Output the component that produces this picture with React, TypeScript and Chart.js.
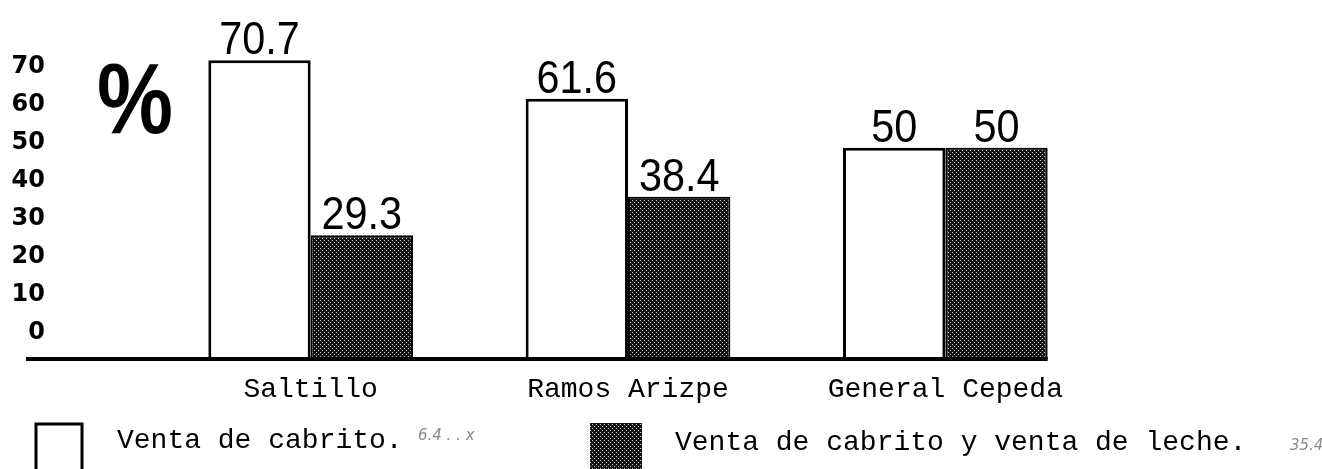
import React, { useEffect, useRef } from 'react';
import { Chart, registerables } from 'chart.js';

Chart.register(...registerables);

const categories = ['Saltillo', 'Ramos Arizpe', 'General Cepeda'];
const ventaCabrito = [70.7, 61.6, 50];
const ventaCabritoLeche = [29.3, 38.4, 50];
const seriesLabels = ['Venta de cabrito.', 'Venta de cabrito y venta de leche.'];
const yTickValues = [0, 10, 20, 30, 40, 50, 60, 70];
const handNotes = ['6.4 . . x', '35.4'];
const unitSymbol = '%';

function makePattern(): CanvasPattern | string {
  const c = document.createElement('canvas');
  c.width = 4;
  c.height = 4;
  const g = c.getContext('2d');
  if (!g) return '#333';
  g.fillStyle = '#151515';
  g.fillRect(0, 0, 4, 4);
  g.fillStyle = '#c4c4c4';
  g.fillRect(0, 0, 1, 1);
  g.fillRect(2, 2, 1, 1);
  return g.createPattern(c, 'repeat') || '#333';
}

export default function App() {
  const ref = useRef<HTMLCanvasElement | null>(null);

  useEffect(() => {
    document.body.style.margin = '0';
    const canvas = ref.current;
    if (!canvas) return;
    const pattern = makePattern();

    const valuePlugin = {
      id: 'valueLabels',
      afterDatasetsDraw(chart: any) {
        const ctx = chart.ctx;
        // baseline
        const lastMeta = chart.getDatasetMeta(chart.data.datasets.length - 1);
        const lastEl: any = lastMeta.data[lastMeta.data.length - 1];
        const right = lastEl.x + lastEl.width / 2;
        const left = chart.scales.y2.left + 26;
        const yb = chart.chartArea.bottom;
        ctx.save();
        ctx.strokeStyle = '#000';
        ctx.lineWidth = 4;
        ctx.beginPath();
        ctx.moveTo(left, yb);
        ctx.lineTo(right, yb);
        ctx.stroke();
        ctx.restore();

        chart.data.datasets.forEach((ds: any, di: number) => {
          const meta = chart.getDatasetMeta(di);
          meta.data.forEach((el: any, i: number) => {
            const v = ds.data[i];
            ctx.save();
            ctx.font = '46px "Liberation Sans", Arial, sans-serif';
            ctx.fillStyle = '#000';
            ctx.textAlign = 'center';
            ctx.textBaseline = 'alphabetic';
            ctx.translate(el.x, el.y - 6);
            ctx.scale(0.9, 1);
            ctx.fillText(String(v), 0, 0);
            ctx.restore();
          });
        });
      },
      afterDraw(chart: any) {
        const ctx = chart.ctx;
        const ca = chart.chartArea;
        // big percent sign
        ctx.save();
        ctx.font = 'bold 100px "Liberation Sans", Arial, sans-serif';
        ctx.fillStyle = '#000';
        ctx.textBaseline = 'alphabetic';
        ctx.textAlign = 'left';
        const w = ctx.measureText(unitSymbol).width;
        ctx.translate(ca.left - 55, ca.top + 112);
        ctx.scale(76 / w, 1);
        ctx.fillText(unitSymbol, 0, 0);
        ctx.restore();

        // legend
        const ds = chart.data.datasets;
        ctx.save();
        ctx.strokeStyle = '#000';
        ctx.lineWidth = 3;
        ctx.fillStyle = '#fff';
        ctx.fillRect(36, 424, 46, 60);
        ctx.strokeRect(36, 424, 46, 60);
        ctx.fillStyle = ds[1].backgroundColor;
        ctx.fillRect(590, 423, 52, 60);
        ctx.font = '28px "Liberation Mono", "DejaVu Sans Mono", monospace';
        ctx.fillStyle = '#000';
        ctx.textBaseline = 'middle';
        ctx.textAlign = 'left';
        ctx.fillText(ds[0].label, 117, 441);
        ctx.fillText(ds[1].label, 675, 443);
        ctx.font = 'italic 15px "DejaVu Sans", sans-serif';
        ctx.fillStyle = '#8a8a8a';
        ctx.fillText(handNotes[0], 418, 436);
        ctx.fillText(handNotes[1], 1290, 446);
        ctx.restore();
      },
    };

    const chart = new Chart(canvas, {
      type: 'bar',
      data: {
        labels: categories,
        datasets: [
          {
            label: seriesLabels[0],
            data: ventaCabrito,
            backgroundColor: '#ffffff',
            borderColor: '#000000',
            borderWidth: 3,
            barPercentage: 1.0,
            categoryPercentage: 0.645,
            yAxisID: 'y',
          },
          {
            label: seriesLabels[1],
            data: ventaCabritoLeche,
            backgroundColor: pattern as any,
            borderColor: '#000000',
            borderWidth: 2,
            barPercentage: 1.0,
            categoryPercentage: 0.645,
            yAxisID: 'y',
          },
        ],
      },
      options: {
        responsive: false,
        animation: false,
        layout: { padding: { top: 21, right: 218, left: 0, bottom: 0 } },
        plugins: {
          legend: { display: false },
          tooltip: { enabled: false },
          title: { display: false },
        },
        scales: {
          x: {
            grid: { display: false, drawTicks: false },
            border: { display: false },
            ticks: {
              color: '#000',
              padding: 14,
              font: { family: '"Liberation Mono", "DejaVu Sans Mono", monospace', size: 28 },
            },
            afterFit(axis: any) {
              axis.height = 110;
              axis.paddingLeft = 0;
              axis.paddingRight = 0;
            },
          },
          y: {
            display: false,
            min: 0,
            max: 80,
          },
          y2: {
            position: 'left',
            min: -6.84,
            max: 82.1,
            grid: { display: false, drawTicks: false },
            border: { display: false },
            afterBuildTicks(axis: any) {
              axis.ticks = yTickValues.map((v) => ({ value: v }));
            },
            ticks: {
              color: '#000',
              padding: 107,
              font: { family: '"DejaVu Sans", sans-serif', size: 24, weight: 'bold' },
              callback: (v: any) => String(v),
            },
            afterFit(axis: any) {
              axis.width = 152;
              axis.paddingTop = 0;
              axis.paddingBottom = 0;
            },
          },
        },
      } as any,
      plugins: [valuePlugin],
    });

    return () => chart.destroy();
  }, []);

  return (
    <div style={{ width: 1322, height: 469, background: '#fff' }}>
      <canvas ref={ref} width={1322} height={469} style={{ display: 'block' }} />
    </div>
  );
}
